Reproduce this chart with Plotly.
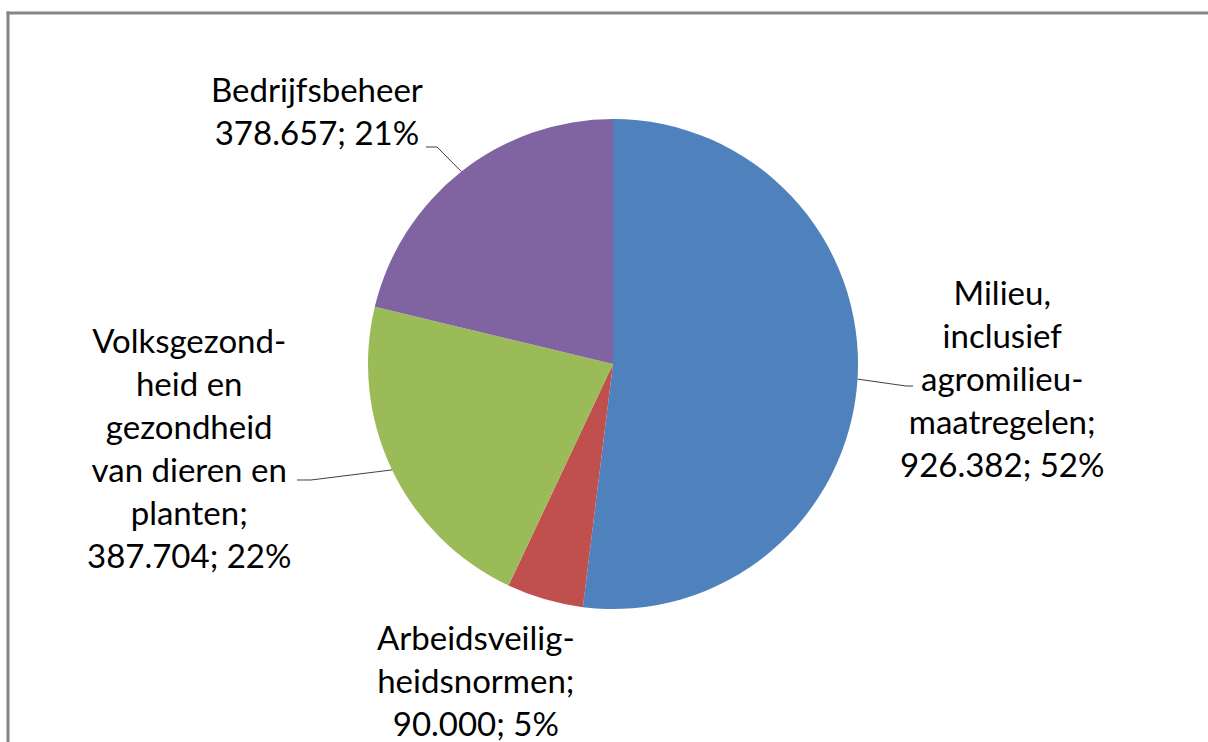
import math
import plotly.graph_objects as go

# ---- data ----
categories = [
    "Milieu, inclusief agromilieumaatregelen",
    "Arbeidsveiligheidsnormen",
    "Volksgezondheid en gezondheid van dieren en planten",
    "Bedrijfsbeheer",
]
values = [926382, 90000, 387704, 378657]
value_labels = ["926.382", "90.000", "387.704", "378.657"]
label_lines = [
    ["Milieu,", "inclusief", "agromilieu-", "maatregelen;"],
    ["Arbeidsveilig-", "heidsnormen;"],
    ["Volksgezond-", "heid en", "gezondheid", "van dieren en", "planten;"],
    ["Bedrijfsbeheer"],
]
colors = ["#4F81BD", "#C0504D", "#9BBB59", "#8064A2"]

# ---- layout constants (pixels) ----
W, H = 1208, 742
CX, CY, R = 613, 364, 245
FONT = "Lato"
FS = 33

def px(x):
    return x / W

def py(y):
    return 1 - y / H

fig = go.Figure(go.Pie(
    labels=categories,
    values=values,
    marker=dict(colors=colors, line=dict(width=0)),
    sort=False,
    direction="clockwise",
    rotation=0,
    textinfo="none",
    hoverinfo="label+value+percent",
    showlegend=False,
    domain=dict(x=[px(CX - R), px(CX + R)], y=[py(CY + R), py(CY - R)]),
))

total = sum(values)
# label anchor (center) positions and leader elbows (pixels)
label_pos = [(1002, 378), (476, 680), (189, 447), (317, 110)]
elbows = [[(906, 386), (913, 386)], None, [(311, 480), (297, 480)], [(437, 147), (426, 147)]]

annotations = []
shapes = []
cum = 0
for i, v in enumerate(values):
    frac = v / total
    mid = (cum + frac / 2) * 2 * math.pi
    cum += frac
    pct = round(frac * 100)
    lines = list(label_lines[i]) + [f"{value_labels[i]}; {pct}%"]
    lx, ly = label_pos[i]
    annotations.append(dict(
        x=px(lx), y=py(ly), xref="paper", yref="paper",
        text="<br>".join(lines), showarrow=False, align="center",
        xanchor="center", yanchor="middle",
        font=dict(family=FONT, size=FS, color="#000000"),
    ))
    if elbows[i]:
        ex = CX + R * math.sin(mid)
        ey = CY - R * math.cos(mid)
        pts = [(ex, ey)] + elbows[i]
        path = "M " + " L ".join(f"{px(a):.5f},{py(b):.5f}" for a, b in pts)
        shapes.append(dict(type="path", xref="paper", yref="paper", path=path,
                           line=dict(color="#404040", width=1)))

# chart frame (top and left edges visible)
shapes.append(dict(type="line", xref="paper", yref="paper",
                   x0=px(6.5), y0=py(13), x1=1.0, y1=py(13),
                   line=dict(color="#858585", width=3)))
shapes.append(dict(type="line", xref="paper", yref="paper",
                   x0=px(8), y0=py(11.5), x1=px(8), y1=0.0,
                   line=dict(color="#858585", width=3)))

fig.update_layout(
    width=W, height=H,
    margin=dict(l=0, r=0, t=0, b=0),
    paper_bgcolor="white", plot_bgcolor="white",
    annotations=annotations, shapes=shapes,
)
fig.write_html(
    "out.html",
    config={"displayModeBar": False},
    post_script="document.body.style.margin='0';document.body.style.overflow='hidden';",
)
